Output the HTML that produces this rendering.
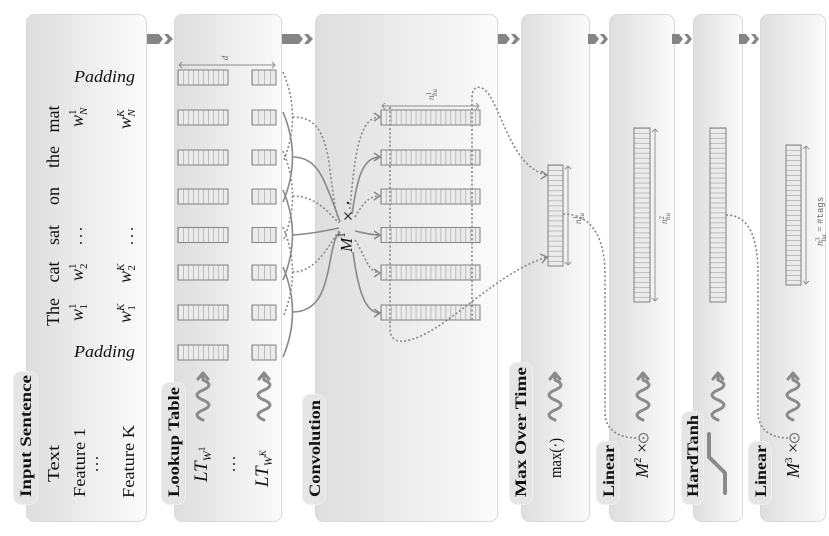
<!DOCTYPE html>
<html><head><meta charset="utf-8"><style>html,body{margin:0;padding:0;background:#fff;width:829px;height:536px;overflow:hidden}</style></head>
<body>
<svg width="829" height="536" viewBox="0 0 829 536" xmlns="http://www.w3.org/2000/svg" font-family="'Liberation Serif', serif">
<defs>
<linearGradient id="pg" x1="0" y1="0" x2="1" y2="0"><stop offset="0" stop-color="#dedede"/><stop offset="1" stop-color="#fbfbfb"/></linearGradient>
<pattern id="lw" x="178" y="0" width="5" height="20" patternUnits="userSpaceOnUse"><rect width="5" height="20" fill="#ebebeb"/><rect x="0" y="0" width="0.8" height="20" fill="#b2b2b2"/></pattern>
<pattern id="ls" x="252" y="0" width="6" height="20" patternUnits="userSpaceOnUse"><rect width="6" height="20" fill="#ebebeb"/><rect x="0" y="0" width="0.8" height="20" fill="#b2b2b2"/></pattern>
<pattern id="cv" x="381" y="0" width="4.95" height="20" patternUnits="userSpaceOnUse"><rect width="4.95" height="20" fill="#ebebeb"/><rect x="0" y="0" width="0.8" height="20" fill="#b2b2b2"/></pattern>
<pattern id="hm" x="0" y="165" width="20" height="5.05" patternUnits="userSpaceOnUse"><rect width="20" height="5.05" fill="#ebebeb"/><rect x="0" y="0" width="20" height="0.8" fill="#b2b2b2"/></pattern>
<pattern id="h1" x="0" y="128" width="20" height="4.97" patternUnits="userSpaceOnUse"><rect width="20" height="4.97" fill="#ebebeb"/><rect x="0" y="0" width="20" height="0.8" fill="#b2b2b2"/></pattern>
<pattern id="h3" x="0" y="145" width="20" height="5" patternUnits="userSpaceOnUse"><rect width="20" height="5" fill="#ebebeb"/><rect x="0" y="0" width="20" height="0.8" fill="#b2b2b2"/></pattern>
</defs>

<!-- panels -->
<g fill="url(#pg)" stroke="#d9d9d9" stroke-width="1">
<rect x="26.5" y="14.5" width="120" height="507" rx="8"/>
<rect x="174.5" y="14.5" width="107" height="507" rx="8"/>
<rect x="315.5" y="14.5" width="182" height="507" rx="8"/>
<rect x="521.5" y="14.5" width="68" height="507" rx="8"/>
<rect x="609.5" y="14.5" width="65" height="507" rx="8"/>
<rect x="693.5" y="14.5" width="49" height="507" rx="8"/>
<rect x="760.5" y="14.5" width="65" height="507" rx="8"/>
</g>

<!-- flow arrows -->
<g fill="#858585">
<polygon points="147,34 159,34 163,39 159,44 147,44"/><polygon points="164,34 168,34 173,39 168,44 164,44 168,39"/>
<polygon points="282,34 299,34 303,39 299,44 282,44"/><polygon points="304,34 308,34 313,39 308,44 304,44 308,39"/>
<polygon points="498,34 506,34 510,39 506,44 498,44"/><polygon points="511,34 515,34 520,39 515,44 511,44 515,39"/>
<polygon points="588,34 595,34 599,39 595,44 588,44"/><polygon points="600,34 604,34 608,39 604,44 600,44 604,39"/>
<polygon points="672,34 679,34 683,39 679,44 672,44"/><polygon points="684,34 688,34 692,39 688,44 684,44 688,39"/>
<polygon points="739,34 746,34 750,39 746,44 739,44"/><polygon points="751,34 755,34 759,39 755,44 751,44 755,39"/>
</g>

<!-- pills -->
<g fill="#e5e5e5" stroke="#eeeeee">
<rect x="13.5" y="371.5" width="24" height="133" rx="8"/>
<rect x="161.5" y="382.5" width="24" height="122" rx="8"/>
<rect x="302.5" y="394.5" width="23" height="110" rx="8"/>
<rect x="509.5" y="362.5" width="23" height="142" rx="8"/>
<rect x="596.5" y="441.5" width="23" height="63" rx="8"/>
<rect x="681.5" y="411.5" width="22" height="93" rx="8"/>
<rect x="748.5" y="441.5" width="23" height="63" rx="8"/>
</g>

<!-- lookup boxes -->
<g stroke="#8a8a8a" stroke-width="1.1">
<rect x="178" y="70" width="50" height="15" fill="url(#lw)"/><rect x="252" y="70" width="24" height="15" fill="url(#ls)"/>
<rect x="178" y="110" width="50" height="15" fill="url(#lw)"/><rect x="252" y="110" width="24" height="15" fill="url(#ls)"/>
<rect x="178" y="150" width="50" height="15" fill="url(#lw)"/><rect x="252" y="150" width="24" height="15" fill="url(#ls)"/>
<rect x="178" y="189" width="50" height="15" fill="url(#lw)"/><rect x="252" y="189" width="24" height="15" fill="url(#ls)"/>
<rect x="178" y="227.5" width="50" height="15" fill="url(#lw)"/><rect x="252" y="227.5" width="24" height="15" fill="url(#ls)"/>
<rect x="178" y="265" width="50" height="15" fill="url(#lw)"/><rect x="252" y="265" width="24" height="15" fill="url(#ls)"/>
<rect x="178" y="305" width="50" height="15" fill="url(#lw)"/><rect x="252" y="305" width="24" height="15" fill="url(#ls)"/>
<rect x="178" y="345" width="50" height="15" fill="url(#lw)"/><rect x="252" y="345" width="24" height="15" fill="url(#ls)"/>
<!-- conv boxes -->
<rect x="381" y="110" width="99" height="15" fill="url(#cv)"/>
<rect x="381" y="150" width="99" height="15" fill="url(#cv)"/>
<rect x="381" y="189" width="99" height="15" fill="url(#cv)"/>
<rect x="381" y="227.5" width="99" height="15" fill="url(#cv)"/>
<rect x="381" y="265" width="99" height="15" fill="url(#cv)"/>
<rect x="381" y="305" width="99" height="15" fill="url(#cv)"/>
<!-- vertical boxes -->
<rect x="548" y="165" width="15" height="101" fill="url(#hm)"/>
<rect x="634" y="128" width="16" height="174" fill="url(#h1)"/>
<rect x="710" y="128" width="16" height="174" fill="url(#h1)"/>
<rect x="786" y="145" width="15" height="140" fill="url(#h3)"/>
</g>

<!-- dimension arrows -->
<g stroke="#8c8c8c" stroke-width="0.9" fill="none">
<path d="M179,65 L275,65 M182,62 L179,65 L182,68 M272,62 L275,65 L272,68"/>
<path d="M382,106 L479,106 M385,103 L382,106 L385,109 M476,103 L479,106 L476,109"/>
<path d="M568,166 L568,265 M565,169 L568,166 L571,169 M565,262 L568,265 L571,262"/>
<path d="M655,129 L655,301 M652,132 L655,129 L658,132 M652,298 L655,301 L658,298"/>
<path d="M806,146 L806,284 M803,149 L806,146 L809,149 M803,281 L806,284 L809,281"/>
</g>

<!-- lookup -> M1 connectors -->
<g stroke="#888" stroke-width="1.6" fill="none">
<path d="M283,112 Q302,157 283,202"/>
<path d="M283,190 Q302,235 283,280"/>
<path d="M283,267 Q302,312 283,357"/>
<path d="M292.5,157 C315,157 322,175 330,195 S338,217 340,222"/>
<path d="M293,235 C310,234 325,231 339,228"/>
<path d="M292.5,312 C318,312 325,290 330,262 S337,236 340,232"/>
<path d="M352,214 C357,180 362,157 380,157 M374,153 L380,157 L374,161"/>
<path d="M355,231 C365,233 370,235 380,235 M374,231 L380,235 L374,239"/>
<path d="M353,252 C358,290 365,313 380,313 M374,309 L380,313 L374,317"/>
</g>
<g stroke="#888" stroke-width="1.6" fill="none" stroke-dasharray="2 2.2">
<path d="M283,72 Q302,117 283,162"/>
<path d="M283,151 Q302,196 283,241"/>
<path d="M283,227 Q302,272 283,317"/>
<path d="M292.5,117 C315,117 325,130 330,170 S336,214 340,221"/>
<path d="M292.5,196 C315,196 326,210 339,223"/>
<path d="M292.5,272 C315,272 326,250 339,231"/>
<path d="M350,209 C355,150 360,117 380,117"/>
<path d="M355,217 C362,205 368,196 380,196"/>
<path d="M355,240 C365,255 368,273 380,273"/>
<path d="M390,107 L390,328 C390,345 405,344 425,334 C460,316 500,272 547,257"/>
<path d="M472,320 L472,98 C472,84 482,84 490,96 C505,122 515,168 547,175"/>
<path d="M563,214 C590,214 605,235 605,275 L605,412 C605,430 618,438 638,438"/>
<path d="M726,215 C748,215 758,235 758,275 L758,412 C758,430 771,438 789,438"/>
</g>
<g stroke="#888" stroke-width="1.4" fill="none">
<path d="M374,113 L380,117 L374,121"/>
<path d="M374,192 L380,196 L374,200"/>
<path d="M374,269 L380,273 L374,277"/>
<path d="M541,171 L547,175 L541,179"/>
<path d="M540,254 L547,257 L542,263"/>
</g>

<!-- M1 x -->
<g stroke="#222" stroke-width="1.2">
<path d="M344.5,212.5 L351.5,219.5 M351.5,212.5 L344.5,219.5"/>
</g>
<circle cx="348" cy="203" r="1.2" fill="#222"/>

<!-- odot -->
<g stroke="#777" stroke-width="1.3" fill="none">
<circle cx="643.5" cy="438" r="4.5"/><circle cx="794.5" cy="438" r="4.5"/>
</g>
<circle cx="643.5" cy="438" r="1.1" fill="#777"/><circle cx="794.5" cy="438" r="1.1" fill="#777"/>

<!-- squiggles -->
<g stroke="#8a8a8a" stroke-width="3" fill="none" stroke-linecap="round" stroke-linejoin="round">
<path d="M203,420 Q191,415 203,410 T203,400 T203,390 T203,380 L203,374 M198,379 L203,373 L208,379"/>
<path d="M264,420 Q252,415 264,410 T264,400 T264,390 T264,380 L264,374 M259,379 L264,373 L269,379"/>
<path d="M555,420 Q543,415 555,410 T555,400 T555,390 T555,380 L555,374 M550,379 L555,373 L560,379"/>
<path d="M643,420 Q631,415 643,410 T643,400 T643,390 T643,380 L643,374 M638,379 L643,373 L648,379"/>
<path d="M718,420 Q706,415 718,410 T718,400 T718,390 T718,380 L718,374 M713,379 L718,373 L723,379"/>
<path d="M793,420 Q781,415 793,410 T793,400 T793,390 T793,380 L793,374 M788,379 L793,373 L798,379"/>
</g>
<!-- hardtanh glyph -->
<polyline points="725,493 725,473 709,457 709,434" stroke="#8a8a8a" stroke-width="4" fill="none" stroke-linecap="round" stroke-linejoin="round"/>

<!-- dots -->
<g fill="#222">
<circle cx="81" cy="229" r="1"/><circle cx="81" cy="236" r="1"/><circle cx="81" cy="243" r="1"/>
<circle cx="132" cy="229" r="1"/><circle cx="132" cy="236" r="1"/><circle cx="132" cy="243" r="1"/>
<circle cx="97" cy="458" r="1"/><circle cx="97" cy="464" r="1"/><circle cx="97" cy="470" r="1"/>
<circle cx="234" cy="458" r="1"/><circle cx="234" cy="464" r="1"/><circle cx="234" cy="470" r="1"/>
</g>

<!-- horizontal Padding -->
<text x="74" y="82" font-size="17" font-style="italic" fill="#111" textLength="61" lengthAdjust="spacingAndGlyphs">Padding</text>
<text x="74" y="357" font-size="17" font-style="italic" fill="#111" textLength="61" lengthAdjust="spacingAndGlyphs">Padding</text>

<!-- rotated text -->
<g transform="translate(0,536) rotate(-90)" fill="#111">
<g font-weight="bold" font-size="16">
<text x="39" y="31" textLength="122" lengthAdjust="spacingAndGlyphs">Input Sentence</text>
<text x="39" y="179" textLength="110" lengthAdjust="spacingAndGlyphs">Lookup Table</text>
<text x="39" y="320" textLength="97" lengthAdjust="spacingAndGlyphs">Convolution</text>
<text x="39" y="526" textLength="130" lengthAdjust="spacingAndGlyphs">Max Over Time</text>
<text x="39" y="614" textLength="52" lengthAdjust="spacingAndGlyphs">Linear</text>
<text x="39" y="698" textLength="82" lengthAdjust="spacingAndGlyphs">HardTanh</text>
<text x="39" y="766" textLength="52" lengthAdjust="spacingAndGlyphs">Linear</text>
</g>
<g font-size="17">
<text x="54" y="59" textLength="37" lengthAdjust="spacingAndGlyphs">Text</text>
<text x="39" y="85" textLength="69" lengthAdjust="spacingAndGlyphs">Feature 1</text>
<text x="38" y="134" textLength="73" lengthAdjust="spacingAndGlyphs">Feature K</text>
<g text-anchor="middle" font-size="18">
<text x="224" y="59">The</text>
<text x="264" y="59">cat</text>
<text x="301" y="59">sat</text>
<text x="340" y="59">on</text>
<text x="379" y="59">the</text>
<text x="417" y="59">mat</text>
</g>
<g font-style="italic">
<text x="215" y="83" font-size="18">w<tspan font-size="11" font-style="normal" dy="-7">1</tspan><tspan font-size="11" font-style="normal" dx="-5.5" dy="11">1</tspan></text>
<text x="255" y="83" font-size="18">w<tspan font-size="11" font-style="normal" dy="-7">1</tspan><tspan font-size="11" font-style="normal" dx="-5.5" dy="11">2</tspan></text>
<text x="409" y="83" font-size="18">w<tspan font-size="11" font-style="normal" dy="-7">1</tspan><tspan font-size="11" dx="-5.5" dy="11">N</tspan></text>
<text x="213" y="131" font-size="18">w<tspan font-size="11" dy="-7">K</tspan><tspan font-size="11" font-style="normal" dx="-7" dy="11">1</tspan></text>
<text x="253" y="131" font-size="18">w<tspan font-size="11" dy="-7">K</tspan><tspan font-size="11" font-style="normal" dx="-7" dy="11">2</tspan></text>
<text x="407" y="131" font-size="18">w<tspan font-size="11" dy="-7">K</tspan><tspan font-size="11" dx="-7" dy="11">N</tspan></text>
<text x="54" y="207" font-size="19">LT<tspan font-size="12" dy="4">W</tspan><tspan font-size="9" font-style="normal" dy="-6">1</tspan></text>
<text x="49" y="268" font-size="19">LT<tspan font-size="12" dy="4">W</tspan><tspan font-size="9" dy="-6">K</tspan></text>
<text x="284" y="352" font-size="17">M<tspan font-size="11" font-style="normal" dy="-7">1</tspan></text>
<text x="58" y="648" font-size="18">M<tspan font-size="11" font-style="normal" dy="-7">2</tspan><tspan font-style="normal" dy="7"> ×</tspan></text>
<text x="58" y="799" font-size="18">M<tspan font-size="11" font-style="normal" dy="-7">3</tspan><tspan font-style="normal" dy="7"> ×</tspan></text>
</g>
<text x="58" y="561" textLength="40" lengthAdjust="spacingAndGlyphs">max(·)</text>
</g>
<g font-size="9" fill="#666" font-style="italic">
<text x="478" y="228" text-anchor="middle">d</text>
<text x="436" y="434">n<tspan font-size="7" font-style="normal" dy="-3">1</tspan><tspan font-size="7" dx="-4" dy="6">hu</tspan></text>
<text x="312" y="581">n<tspan font-size="7" font-style="normal" dy="-3">1</tspan><tspan font-size="7" dx="-4" dy="6">hu</tspan></text>
<text x="312" y="667">n<tspan font-size="7" font-style="normal" dy="-3">2</tspan><tspan font-size="7" dx="-4" dy="6">hu</tspan></text>
<text x="290" y="823" font-size="10">n<tspan font-size="7" font-style="normal" dy="-3">3</tspan><tspan font-size="7" dx="-4" dy="6">hu</tspan><tspan font-style="normal" font-size="10" dy="-3"> = </tspan><tspan font-style="normal" font-family="'Liberation Mono', monospace" font-size="9">#tags</tspan></text>
</g>
</g>
</svg>
</body></html>
